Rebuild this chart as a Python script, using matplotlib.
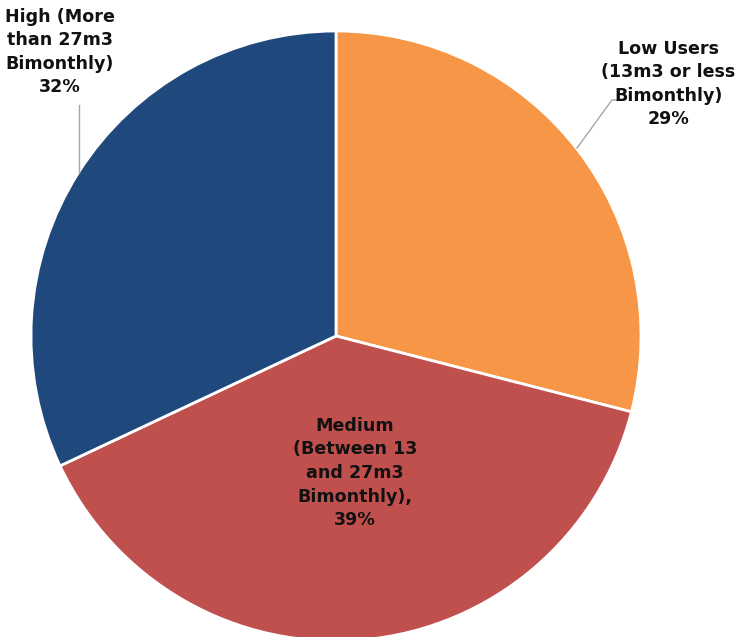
import numpy as np
import matplotlib.pyplot as plt

plt.rcParams.update({
    "font.family": ["DejaVu Sans"],
    "font.size": 12.6,
})

categories = ["Low Users\n(13m3 or less\nBimonthly)",
              "Medium\n(Between 13\nand 27m3\nBimonthly),",
              "High (More\nthan 27m3\nBimonthly)"]
shares = [29, 39, 32]
colors = ["#F79646", "#C0504D", "#1F497D"]

fig = plt.figure(figsize=(7.38, 6.37), dpi=100)
# pie spans pixels 31..641 in both directions (slightly cut at bottom)
ax = fig.add_axes([31 / 738, -4 / 637, 610 / 738, 610 / 637])
wedges, _ = ax.pie(shares, colors=colors, startangle=90, counterclock=False,
                   radius=1.0, wedgeprops=dict(edgecolor="white", linewidth=2))
ax.set_xlim(-1, 1)
ax.set_ylim(-1, 1)
ax.set_aspect("equal")
ax.axis("off")

labels = [f"{c}\n{s}%" for c, s in zip(categories, shares)]
label_pos = [(1.089, 0.826), (0.062, -0.449), (-0.905, 0.931)]
for txt, (x, y) in zip(labels, label_pos):
    ax.text(x, y, txt, ha="center", va="center", fontweight="semibold",
            linespacing=1.4, color="#111111", clip_on=False)

# leader lines
ax.plot([0.790, 0.905, 0.925], [0.616, 0.774, 0.774], color="#a6a6a6", lw=1, clip_on=False)
ax.plot([-0.843, -0.843], [0.538, 0.757], color="#a6a6a6", lw=1, clip_on=False)

plt.savefig("out.png", dpi=100)
